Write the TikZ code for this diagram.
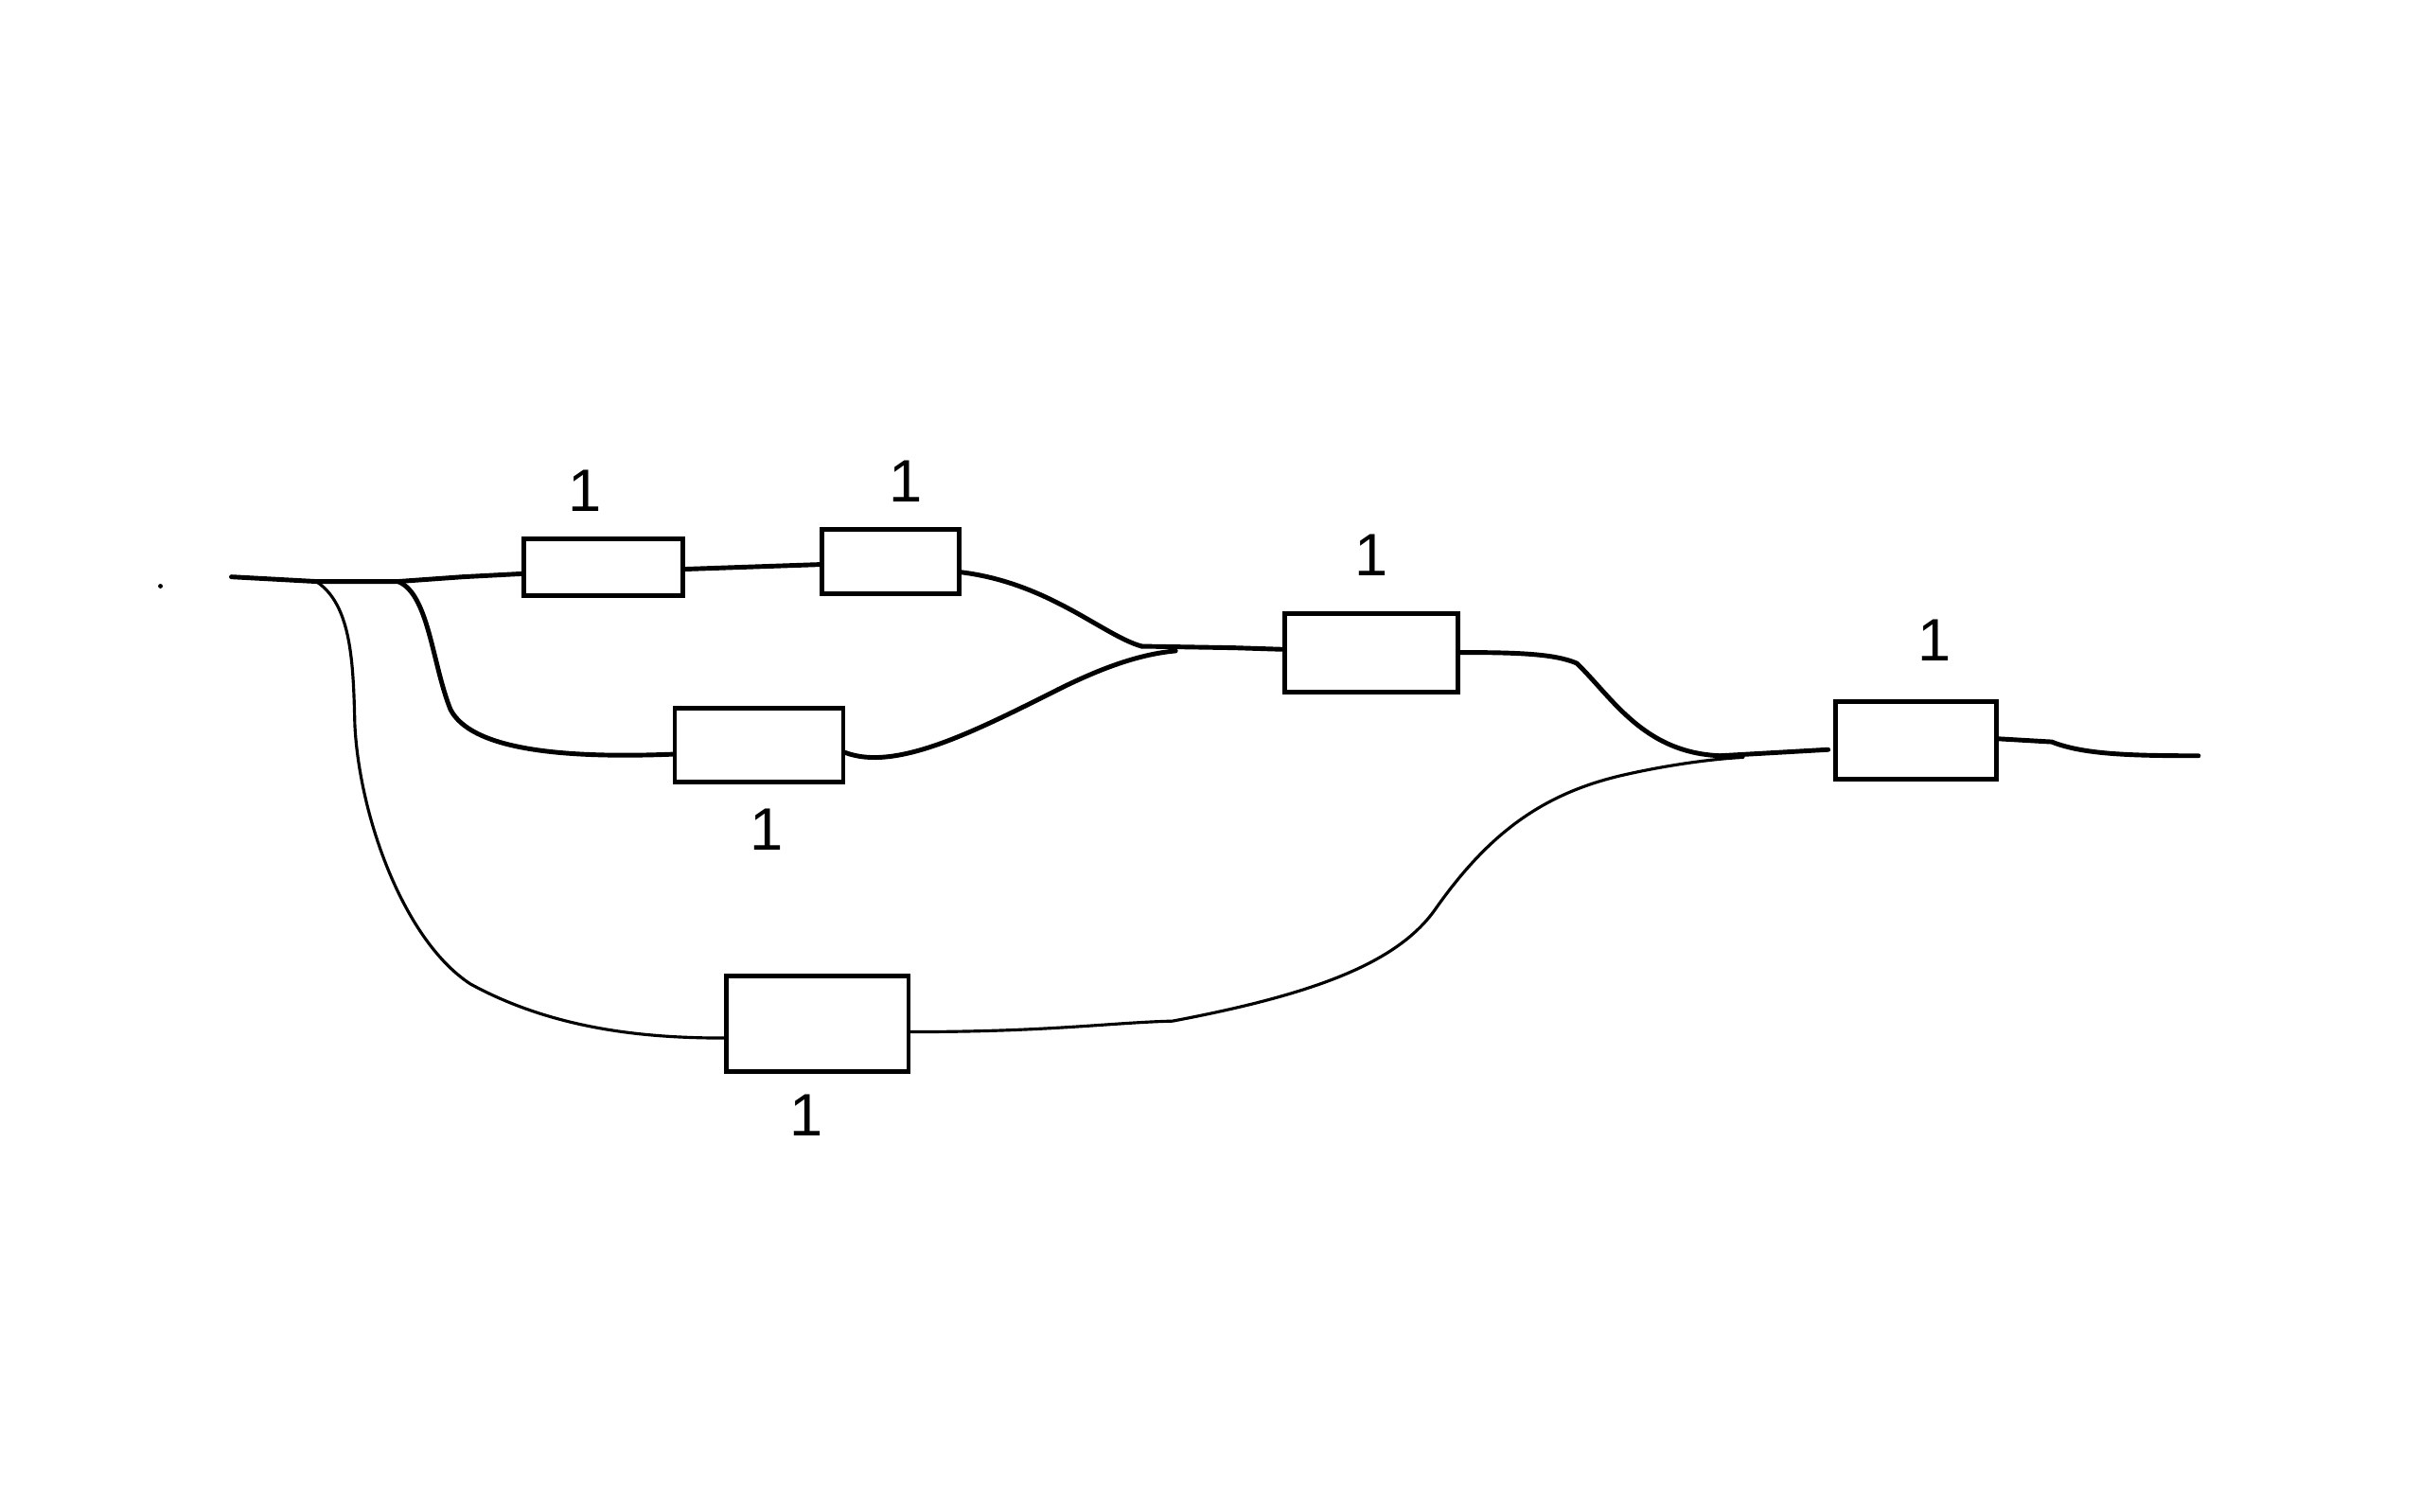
\documentclass[tikz,border=0pt]{standalone}
\usepackage{fontspec}
\setmainfont{Liberation Sans}
\begin{document}
\begin{tikzpicture}[x=0.163mm,y=-0.163mm,
  box/.style={draw,line width=1.4pt,rectangle,inner sep=0pt},
  wire/.style={line width=1.4pt,line cap=round},
  thinwire/.style={line width=0.9pt,line cap=round},
  lbl/.style={font=\fontsize{18}{20}\selectfont,inner sep=0pt}]
\useasboundingbox (0,0) rectangle (1568,980);
% boxes
\node[box,minimum width=16.8mm,minimum height=6.0mm] (A) at (391,368) {};
\node[box,minimum width=14.5mm,minimum height=6.8mm] (B) at (577,364) {};
\node[box,minimum width=17.8mm,minimum height=7.8mm] (C) at (492,483) {};
\node[box,minimum width=18.3mm,minimum height=8.3mm] (D) at (889,423) {};
\node[box,minimum width=17.0mm,minimum height=8.2mm] (E) at (1242,480) {};
\node[box,minimum width=19.2mm,minimum height=10.1mm] (F) at (530,664) {};
% labels
\node[lbl] (lA) at (379,318) {1};
\node[lbl] (lB) at (587,312) {1};
\node[lbl] (lC) at (497,538) {1};
\node[lbl] (lD) at (889,360) {1};
\node[lbl] (lE) at (1254,415) {1};
\node[lbl] (lF) at (523,723) {1};
% junctions
\fill (104,380) circle (1.5);
\coordinate (in) at (150,374);
\coordinate (j1) at (205,377);
\coordinate (j2) at (258,377);
\coordinate (m1) at (740,419);
\coordinate (m2) at (762,422);
\coordinate (m3) at (1115,490);
\coordinate (m4) at (1130,491);
\coordinate (out) at (1425,490);
% connectors
\draw[wire] (in) -- (j1) -- (j2) -- (300,374) -- (A.west |- 0,372);
\draw[thinwire] (j1) .. controls (228,392) and (229,430) .. (230,470)
  .. controls (233,530) and (262,610) .. (305,638)
  .. controls (360,668) and (420,673) .. (F.west |- 0,673);
\draw[wire] (j2) .. controls (278,385) and (280,430) .. (292,460)
  .. controls (305,485) and (360,492) .. (C.west |- 0,489);
\draw[wire] (A.east |- 0,369) -- (B.west |- 0,366);
\draw[wire] (B.east |- 0,371) .. controls (680,378) and (715,412) .. (m1);
\draw[wire] (m1) -- (800,420) -- (D.west |- 0,421);
\draw[wire] (C.east |- 0,488) .. controls (580,500) and (630,475) .. (680,450)
  .. controls (715,432) and (740,424) .. (m2);
\draw[wire] (D.east |- 0,423) .. controls (985,423) and (1008,424) .. (1022,430)
  .. controls (1045,452) and (1065,488) .. (m3);
\draw[wire] (m3) -- (1185,486);
\draw[thinwire] (F.east |- 0,669) .. controls (680,669) and (720,663) .. (760,662)
  .. controls (850,645) and (905,625) .. (930,590)
  .. controls (965,540) and (1000,515) .. (1050,503)
  .. controls (1080,496) and (1110,492) .. (m4);
\draw[wire] (E.east |- 0,479) -- (1330,481) .. controls (1350,489) and (1380,490) .. (out);
\end{tikzpicture}
\end{document}
